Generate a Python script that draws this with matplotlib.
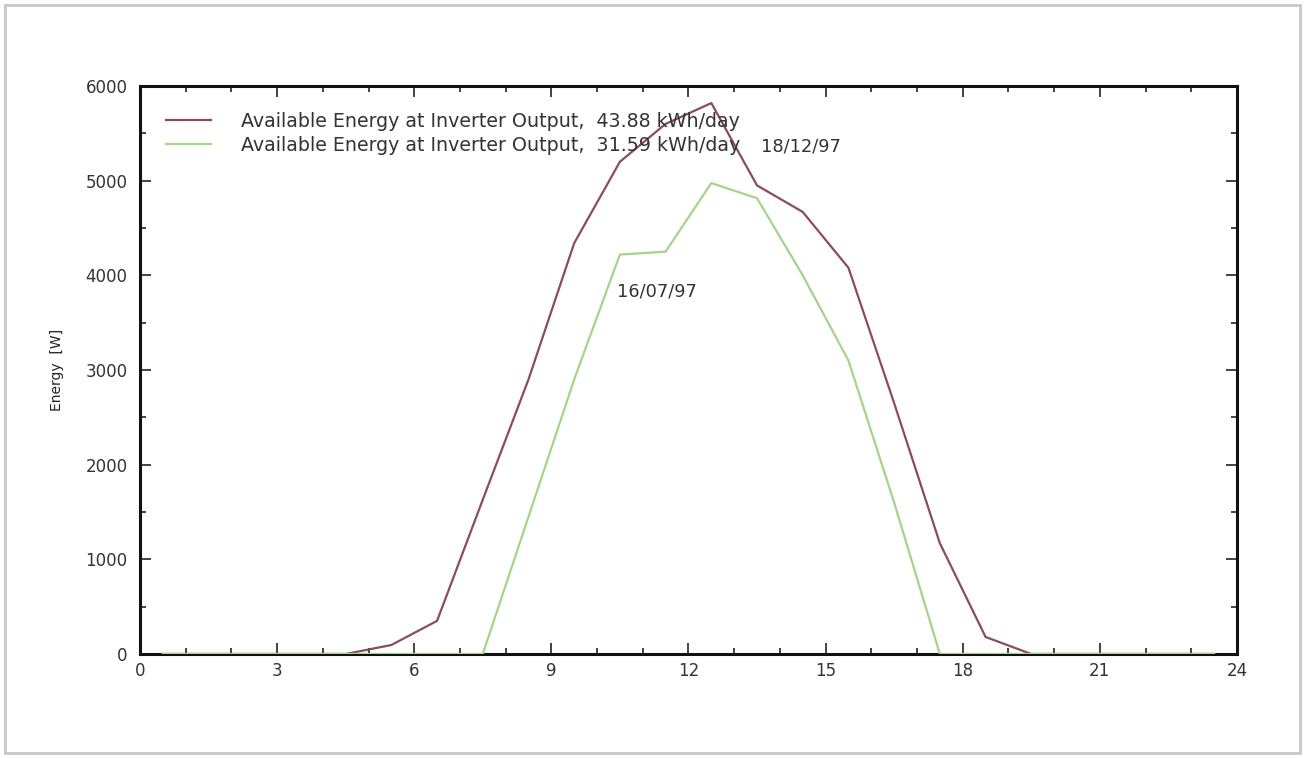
import matplotlib
matplotlib.use("Agg")
import matplotlib.pyplot as plt
from matplotlib.ticker import MultipleLocator
from matplotlib.patches import Rectangle

hours = [0.5, 1.5, 2.5, 3.5, 4.5, 5.5, 6.5, 7.5, 8.5, 9.5, 10.5, 11.5,
         12.5, 13.5, 14.5, 15.5, 16.5, 17.5, 18.5, 19.5, 20.5, 21.5, 22.5, 23.5]
dec_energy = [0, 0, 0, 0, 0, 95, 350, 1630, 2900, 4340, 5200, 5600,
              5820, 4950, 4670, 4080, 2650, 1170, 180, 0, 0, 0, 0, 0]
jul_energy = [0, 0, 0, 0, 0, 0, 0, 0, 1450, 2900, 4220, 4250,
              4975, 4815, 4000, 3100, 1600, 0, 0, 0, 0, 0, 0, 0]
labels = ["Available Energy at Inverter Output,  43.88 kWh/day",
          "Available Energy at Inverter Output,  31.59 kWh/day"]
date_labels = ["18/12/97", "16/07/97"]
date_pos = [(14.45, 5365), (11.3, 3830)]

plt.rcParams['font.family'] = ['DejaVu Sans']

fig = plt.figure(figsize=(13.08, 7.58), dpi=100)
fig.patch.set_facecolor('white')
fig.patches.append(Rectangle((0.004, 0.006), 0.99, 0.988, transform=fig.transFigure,
                             fill=False, edgecolor='#c8c8c8', linewidth=2.0))
ax = fig.add_axes([0.107, 0.1372, 0.8387, 0.7493])

ax.plot(hours, dec_energy, color='#8a4d5c', lw=1.6, label=labels[0], zorder=3)
ax.plot(hours, jul_energy, color='#a5d48c', lw=1.6, label=labels[1], zorder=3)

ax.set_xlim(0, 24)
ax.set_ylim(0, 6000)
ax.xaxis.set_major_locator(MultipleLocator(3))
ax.xaxis.set_minor_locator(MultipleLocator(1))
ax.yaxis.set_major_locator(MultipleLocator(1000))
ax.yaxis.set_minor_locator(MultipleLocator(500))
ax.tick_params(which='both', direction='in', top=True, right=True, colors='#222222',
               labelsize=12, width=1.2)
ax.tick_params(which='major', length=8, pad=9)
ax.tick_params(which='minor', length=4)
ax.tick_params(axis='x', which='major', pad=6)
for t in ax.get_xticklabels() + ax.get_yticklabels():
    t.set_color('#333333')
for s in ax.spines.values():
    s.set_linewidth(2.2)
    s.set_color('#111111')

ax.set_ylabel('Energy  [W]', fontsize=10, labelpad=15, color='#222222')

for t, (x, y) in zip(date_labels, date_pos):
    ax.text(x, y, t, fontsize=12.8, color='#333333', ha='center', va='center')

leg = ax.legend(loc='upper left', frameon=False, fontsize=13.7, handlelength=2.37,
                handletextpad=1.58, labelspacing=0.26, borderpad=0.4,
                bbox_to_anchor=(0.008, 0.985))
for t in leg.get_texts():
    t.set_color('#333333')

fig.savefig('out.png', dpi=100, facecolor='white')
